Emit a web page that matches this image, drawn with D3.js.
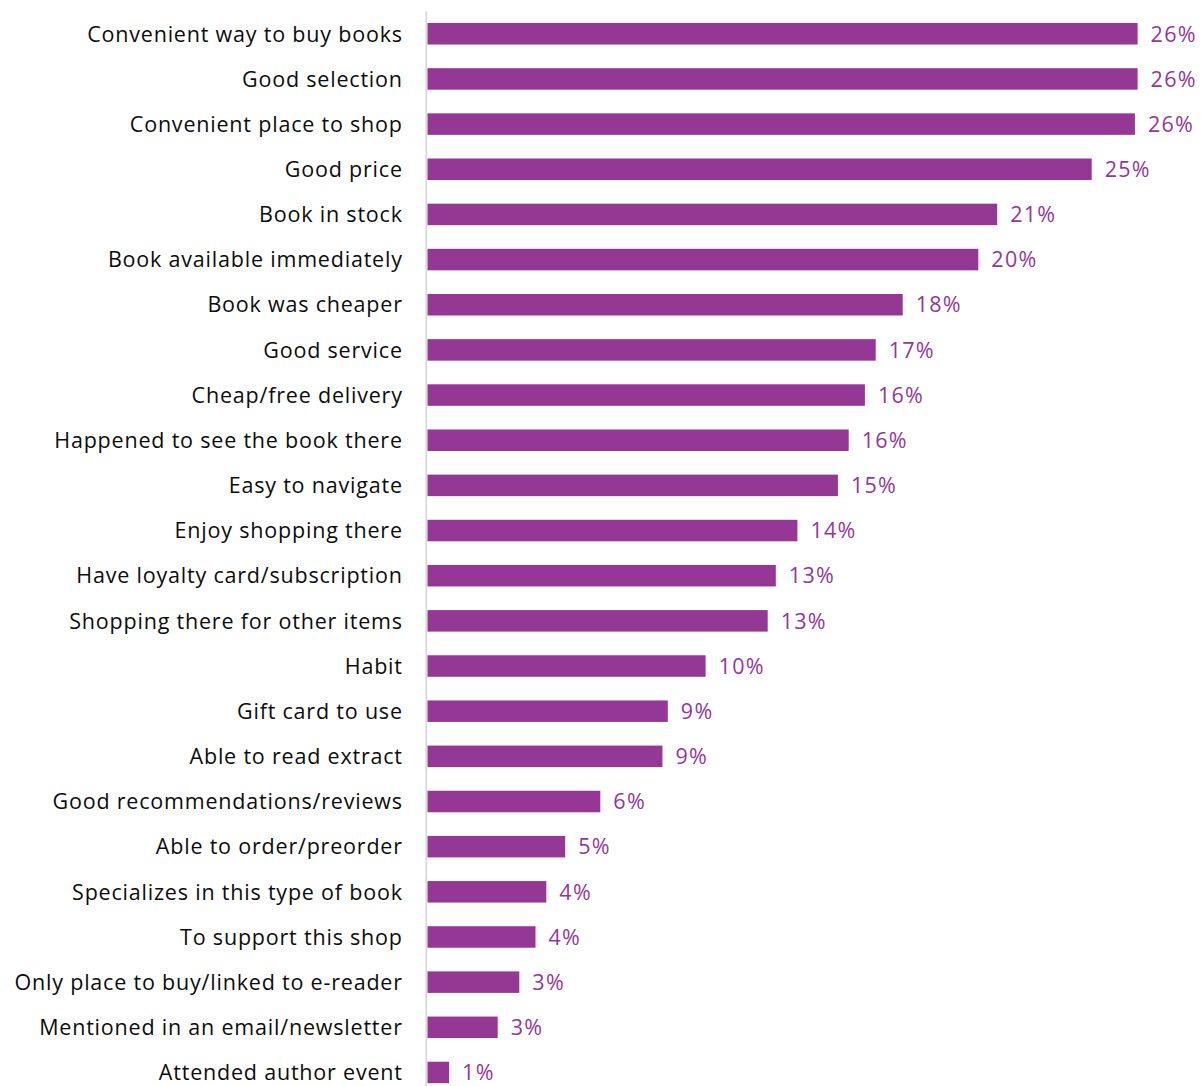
<!DOCTYPE html>
<html>
<head>
<meta charset="utf-8">
<script src="https://cdn.jsdelivr.net/npm/d3@7"></script>
<style>
  html, body { margin: 0; padding: 0; background: #ffffff; }
  svg { display: block; }
</style>
</head>
<body>
<div id="chart"></div>
<script>
// Reasons given for choosing where to buy a book (share of respondents, %)
const reasons = [
  "Convenient way to buy books",
  "Good selection",
  "Convenient place to shop",
  "Good price",
  "Book in stock",
  "Book available immediately",
  "Book was cheaper",
  "Good service",
  "Cheap/free delivery",
  "Happened to see the book there",
  "Easy to navigate",
  "Enjoy shopping there",
  "Have loyalty card/subscription",
  "Shopping there for other items",
  "Habit",
  "Gift card to use",
  "Able to read extract",
  "Good recommendations/reviews",
  "Able to order/preorder",
  "Specializes in this type of book",
  "To support this shop",
  "Only place to buy/linked to e-reader",
  "Mentioned in an email/newsletter",
  "Attended author event"
];

const shares = [
  26.3, 26.3, 26.2, 24.6, 21.1, 20.4, 17.6, 16.6, 16.2, 15.6, 15.2, 13.7,
  12.9, 12.6, 10.3, 8.9, 8.7, 6.4, 5.1, 4.4, 4.0, 3.4, 2.6, 0.8
];

const axisDomain = [0, 30];

const width = 1201, height = 1086;
const barColor = "#943795";
const valueColor = "#94389a";
const fontFamily = "'Open Sans', Lato, sans-serif";
const fontSize = 21.5;
const labelSpacing = 0.8;
const valueSpacing = 1.3;

const data = reasons.map((r, i) => ({ reason: r, value: shares[i] }));

const svg = d3.select("#chart").append("svg")
  .attr("width", width)
  .attr("height", height);

const x = d3.scaleLinear()
  .domain(axisDomain)
  .range([427.5, 427.5 + 810]);

const y = d3.scaleBand()
  .domain(reasons)
  .range([11.2, 11.2 + 45.16 * 24])
  .paddingInner(0.524)
  .paddingOuter(0.262);

// vertical category axis line
svg.append("line")
  .attr("x1", 426.3).attr("x2", 426.3)
  .attr("y1", y.range()[0]).attr("y2", y.range()[1])
  .attr("stroke", "#d9d9d9")
  .attr("stroke-width", 1.8);

// bars
svg.append("g")
  .selectAll("rect")
  .data(data)
  .join("rect")
  .attr("x", x(0))
  .attr("y", d => y(d.reason))
  .attr("width", d => x(d.value) - x(0))
  .attr("height", y.bandwidth())
  .attr("fill", barColor);

// category labels (right-aligned against the axis)
svg.append("g")
  .selectAll("text")
  .data(data)
  .join("text")
  .attr("x", 402 + labelSpacing)
  .attr("y", d => y(d.reason) + y.bandwidth() / 2)
  .attr("dy", "0.36em")
  .attr("text-anchor", "end")
  .attr("font-family", fontFamily)
  .attr("font-size", fontSize)
  .attr("letter-spacing", labelSpacing)
  .attr("fill", "#0d0d0d")
  .text(d => d.reason);

// value labels at the end of each bar
svg.append("g")
  .selectAll("text")
  .data(data)
  .join("text")
  .attr("x", d => x(d.value) + 13)
  .attr("y", d => y(d.reason) + y.bandwidth() / 2)
  .attr("dy", "0.36em")
  .attr("text-anchor", "start")
  .attr("font-family", fontFamily)
  .attr("font-size", fontSize)
  .attr("letter-spacing", valueSpacing)
  .attr("fill", valueColor)
  .text(d => Math.round(d.value) + "%");
</script>
</body>
</html>
